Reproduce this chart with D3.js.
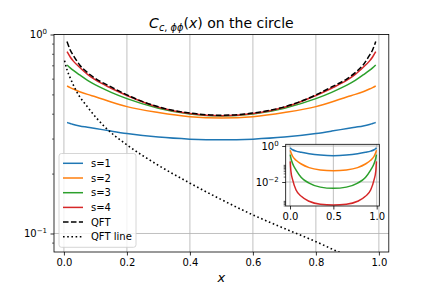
<!DOCTYPE html>
<html><head><meta charset="utf-8">
<script src="https://cdn.jsdelivr.net/npm/d3@7"></script>
<style>body{margin:0;background:#fff} svg{display:block} text{font-family:"DejaVu Sans",sans-serif}</style>
</head><body><svg id="c" width="432" height="288"></svg>
<script>
// ---- data ----
const xs = [0.01,0.02,0.03,0.05,0.075,0.1,0.15,0.2,0.3,0.4,0.5,0.6,0.7,0.8,0.85,0.9,0.925,0.95,0.97,0.98,0.99];
const s1 = [0.361,0.357,0.353,0.347,0.342,0.337,0.327,0.318,0.305,0.298,0.2955,0.298,0.305,0.318,0.327,0.337,0.342,0.347,0.353,0.357,0.361];
const s2 = [0.551,0.541,0.532,0.516,0.500,0.487,0.458,0.434,0.405,0.386,0.380,0.386,0.405,0.434,0.458,0.487,0.500,0.516,0.532,0.541,0.551];
const s3 = [0.703,0.680,0.660,0.626,0.588,0.558,0.512,0.476,0.426,0.398,0.389,0.398,0.426,0.476,0.512,0.558,0.588,0.626,0.660,0.680,0.703];
const s4 = [0.820,0.771,0.735,0.684,0.630,0.591,0.537,0.494,0.431,0.401,0.391,0.401,0.431,0.494,0.537,0.591,0.630,0.684,0.735,0.771,0.820];
const qft = [0.921,0.836,0.785,0.703,0.643,0.601,0.545,0.497,0.433,0.403,0.393,0.403,0.433,0.497,0.545,0.601,0.643,0.703,0.785,0.836,0.921];
const qftLineX = [0.002,0.01,0.02,0.04,0.075,0.13,0.2,0.3,0.4,0.5,0.6,0.7,0.8,0.87,0.95];
const qftLineV = [0.739,0.664,0.605,0.518,0.432,0.343,0.279,0.220,0.179,0.148,0.124,0.106,0.091,0.081,0.072];
const insetX = [0.003,0.01,0.03,0.07,0.13,0.22,0.35,0.5,0.65,0.78,0.87,0.93,0.97,0.99,0.997];
const in1 = [0.80,0.72,0.62,0.52,0.45,0.375,0.315,0.29,0.315,0.375,0.45,0.52,0.62,0.72,0.80];
const in2 = [0.58,0.45,0.27,0.16,0.10,0.063,0.047,0.0427,0.047,0.063,0.10,0.16,0.27,0.45,0.58];
const in3 = [0.33,0.22,0.105,0.046,0.018,0.0087,0.0052,0.00445,0.0052,0.0087,0.018,0.046,0.105,0.22,0.33];
const in4 = [0.14,0.042,0.0135,0.0036,0.0016,0.00085,0.00058,0.00053,0.00058,0.00085,0.0016,0.0036,0.0135,0.042,0.14];
const xTicks = [0,0.2,0.4,0.6,0.8,1.0];
const xTickLabels = ["0.0","0.2","0.4","0.6","0.8","1.0"];
const yTicks = [1,0.1];
const yTickExp = ["0","\u22121"];
const yMinor = [0.2,0.3,0.4,0.5,0.6,0.7,0.8,0.9,0.09];
const insetXTicks = [0,0.5,1];
const insetXLabels = ["0.0","0.5","1.0"];
const insetYTicks = [1,0.01];
const insetYExp = ["0","\u22122"];
const insetYMinor = [0.02,0.03,0.04,0.05,0.06,0.07,0.08,0.09,0.0005,0.0006,0.0007,0.0008,0.0009];
const labels = ["s=1","s=2","s=3","s=4","QFT","QFT line"];
const colors = ["#1f77b4","#ff7f0e","#2ca02c","#d62728","#000","#000"];

// ---- layout ----
const svg = d3.select("#c");
const M = {l:54, r:388.8, t:34.5, b:252};
const x = d3.scaleLinear().domain([-0.0315,1.0315]).range([M.l,M.r]);
const y = d3.scaleLog().domain([Math.pow(10,-1.093),1]).range([M.b,M.t]);

svg.append("defs").append("clipPath").attr("id","clipMain")
  .append("rect").attr("x",M.l).attr("y",M.t).attr("width",M.r-M.l).attr("height",M.b-M.t);

const grid = svg.append("g").attr("stroke","#b0b0b0").attr("stroke-width",0.8);
xTicks.forEach(t=>grid.append("line").attr("x1",x(t)).attr("x2",x(t)).attr("y1",M.t).attr("y2",M.b));
yTicks.forEach(t=>grid.append("line").attr("x1",M.l).attr("x2",M.r).attr("y1",y(t)).attr("y2",y(t)));

const line = d3.line().x(d=>x(d[0])).y(d=>y(d[1])).curve(d3.curveMonotoneX);
const gL = svg.append("g").attr("clip-path","url(#clipMain)").attr("fill","none");
[s1,s2,s3,s4].forEach((s,i)=>{
  gL.append("path").attr("d",line(xs.map((v,j)=>[v,s[j]]))).attr("stroke",colors[i]).attr("stroke-width",1.5);
});
gL.append("path").attr("d",line(xs.map((v,j)=>[v,qft[j]]))).attr("stroke","#000").attr("stroke-width",1.5).attr("stroke-dasharray","5.55,2.4");
gL.append("path").attr("d",line(qftLineX.map((v,j)=>[v,qftLineV[j]]))).attr("stroke","#000").attr("stroke-width",1.6).attr("stroke-dasharray","1.6,2.6");

// axes
const gx = svg.append("g").attr("transform",`translate(0,${M.b})`)
  .call(d3.axisBottom(x).tickValues(xTicks).tickSize(3.5).tickPadding(3.5).tickFormat((d,i)=>xTickLabels[i]));
gx.select(".domain").remove();
gx.selectAll("line").attr("stroke","#000").attr("stroke-width",0.8);
gx.selectAll("text").attr("font-size",10).attr("fill","#000").attr("font-family","DejaVu Sans");

const gy = svg.append("g").attr("transform",`translate(${M.l},0)`)
  .call(d3.axisLeft(y).tickValues(yTicks).tickSize(3.5).tickFormat(""));
gy.select(".domain").remove();
gy.selectAll("line").attr("stroke","#000").attr("stroke-width",0.8);
const gym = svg.append("g").attr("transform",`translate(${M.l},0)`)
  .call(d3.axisLeft(y).tickValues(yMinor).tickSize(2).tickFormat(""));
gym.select(".domain").remove();
gym.selectAll("line").attr("stroke","#000").attr("stroke-width",0.6);

function logLabel(xpos, ypos, exp){
  const t = svg.append("text").attr("x",xpos).attr("y",ypos).attr("text-anchor","end").attr("font-size",10).attr("fill","#000");
  t.append("tspan").text("10");
  t.append("tspan").attr("dy",-4.2).attr("font-size",7).text(exp);
}
yTicks.forEach((t,i)=>logLabel(M.l-7, y(t)+3.8, yTickExp[i]));

svg.append("rect").attr("x",M.l).attr("y",M.t).attr("width",M.r-M.l).attr("height",M.b-M.t)
  .attr("fill","none").attr("stroke","#000").attr("stroke-width",0.8);

// title
const title = svg.append("text").attr("x",(M.l+M.r)/2).attr("y",28.3).attr("text-anchor","middle").attr("font-size",14).attr("fill","#000");
title.append("tspan").attr("font-style","italic").text("C");
title.append("tspan").attr("font-size",9.8).attr("dy",3).attr("font-style","italic").text("c");
title.append("tspan").attr("font-size",9.8).text(", ");
title.append("tspan").attr("font-size",9.8).attr("font-style","italic").text("\u03d5\u03d5");
title.append("tspan").attr("dy",-3).text("(");
title.append("tspan").attr("font-style","italic").text("x");
title.append("tspan").text(") on the circle");

svg.append("text").attr("x",(M.l+M.r)/2).attr("y",282.3).attr("text-anchor","middle").attr("font-size",13)
  .attr("font-style","italic").attr("fill","#000").text("x");

// legend
const lg = svg.append("g");
lg.append("rect").attr("x",59).attr("y",153.5).attr("width",77).attr("height",93.8).attr("rx",2.5)
  .attr("fill","#fff").attr("fill-opacity",0.8).attr("stroke","#cccccc").attr("stroke-width",0.8);
labels.forEach((lab,i)=>{
  const yy = 163.3 + i*14.7;
  const l = lg.append("line").attr("x1",63).attr("x2",83).attr("y1",yy).attr("y2",yy).attr("stroke",colors[i]).attr("stroke-width",i==5?1.6:1.5);
  if(i==4) l.attr("stroke-dasharray","5.55,2.4");
  if(i==5) l.attr("stroke-dasharray","1.6,2.6");
  lg.append("text").attr("x",91).attr("y",yy+3.6).attr("font-size",10).attr("fill","#000").text(lab);
});

// inset
const I = {l:285.7, r:379.3, t:144.3, b:206};
const ix = d3.scaleLinear().domain([-0.0496,1.030]).range([I.l,I.r]);
const iy = d3.scaleLog().domain([Math.pow(10,-3.333),Math.pow(10,0.0944)]).range([I.b,I.t]);
svg.append("rect").attr("x",I.l).attr("y",I.t).attr("width",I.r-I.l).attr("height",I.b-I.t).attr("fill","#fff");
svg.select("defs").append("clipPath").attr("id","clipIn")
  .append("rect").attr("x",I.l).attr("y",I.t).attr("width",I.r-I.l).attr("height",I.b-I.t);
const ig = svg.append("g").attr("stroke","#b0b0b0").attr("stroke-width",0.8);
insetXTicks.forEach(t=>ig.append("line").attr("x1",ix(t)).attr("x2",ix(t)).attr("y1",I.t).attr("y2",I.b));
insetYTicks.forEach(t=>ig.append("line").attr("x1",I.l).attr("x2",I.r).attr("y1",iy(t)).attr("y2",iy(t)));
const iline = d3.line().x(d=>ix(d[0])).y(d=>iy(d[1])).curve(d3.curveMonotoneX);
const igL = svg.append("g").attr("clip-path","url(#clipIn)").attr("fill","none");
[in1,in2,in3,in4].forEach((s,i)=>{
  igL.append("path").attr("d",iline(insetX.map((v,j)=>[v,s[j]]))).attr("stroke",colors[i]).attr("stroke-width",1.5);
});
const igx = svg.append("g").attr("transform",`translate(0,${I.b})`)
  .call(d3.axisBottom(ix).tickValues(insetXTicks).tickSize(3.5).tickPadding(3.5).tickFormat((d,i)=>insetXLabels[i]));
igx.select(".domain").remove();
igx.selectAll("line").attr("stroke","#000").attr("stroke-width",0.8);
igx.selectAll("text").attr("font-size",10).attr("fill","#000").attr("font-family","DejaVu Sans");
const igy = svg.append("g").attr("transform",`translate(${I.l},0)`)
  .call(d3.axisLeft(iy).tickValues(insetYTicks).tickSize(3.5).tickFormat(""));
igy.select(".domain").remove();
igy.selectAll("line").attr("stroke","#000").attr("stroke-width",0.8);
const igym = svg.append("g").attr("transform",`translate(${I.l},0)`)
  .call(d3.axisLeft(iy).tickValues(insetYMinor).tickSize(2).tickFormat(""));
igym.select(".domain").remove();
igym.selectAll("line").attr("stroke","#000").attr("stroke-width",0.6);
insetYTicks.forEach((t,i)=>logLabel(I.l-7, iy(t)+3.8, insetYExp[i]));
svg.append("rect").attr("x",I.l).attr("y",I.t).attr("width",I.r-I.l).attr("height",I.b-I.t)
  .attr("fill","none").attr("stroke","#000").attr("stroke-width",0.8);
</script></body></html>
